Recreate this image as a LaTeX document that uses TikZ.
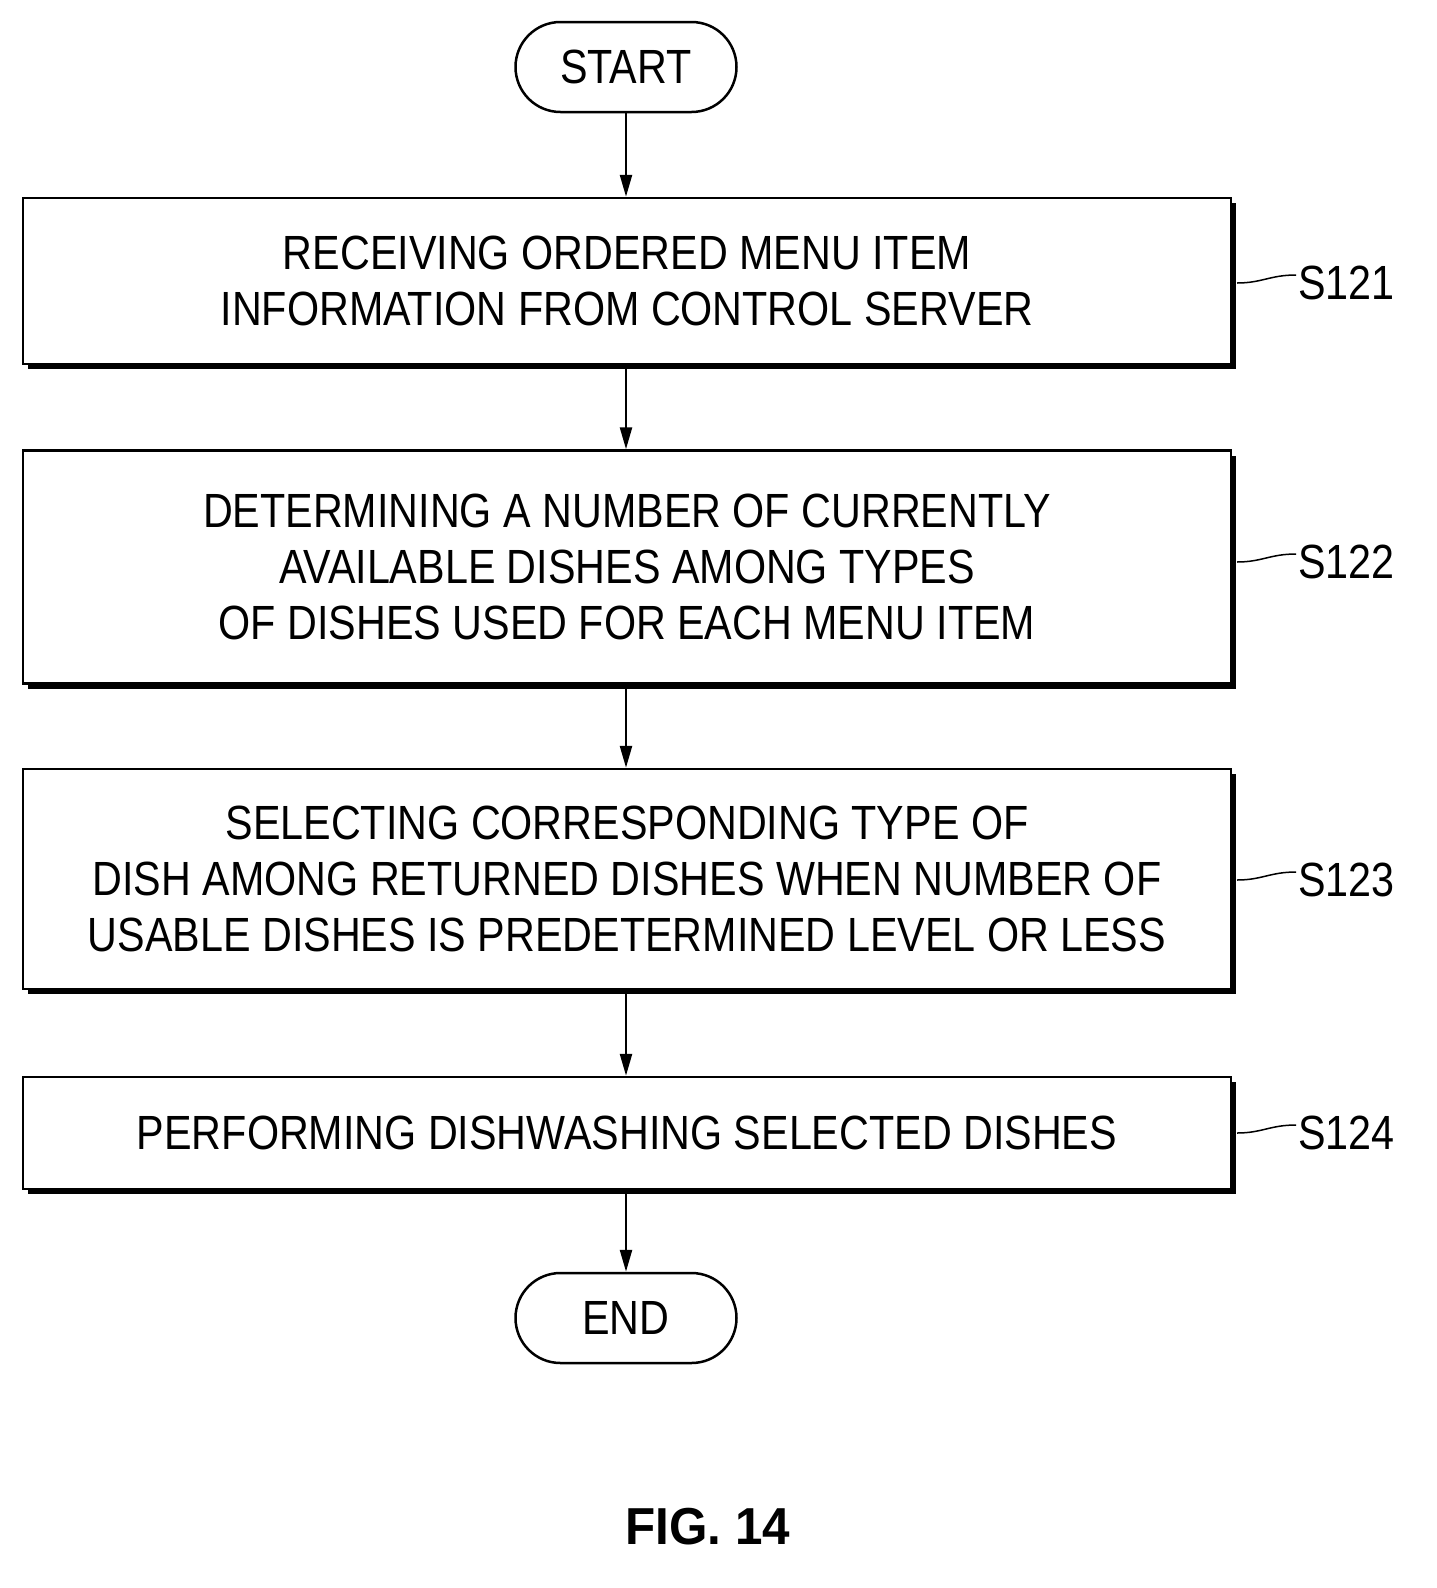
\documentclass[tikz,border=0pt]{standalone}
\usepackage{fontspec}
\setmainfont{Liberation Sans}[FakeStretch=0.86]
\newfontfamily\figfont{Liberation Sans}[FakeStretch=0.95]
\usetikzlibrary{shadows,arrows.meta}
\begin{document}
\begin{tikzpicture}[x=1pt,y=-1pt,
  box/.style={draw,line width=2.5pt,fill=white,minimum width=1208pt,align=center,font=\fontsize{48}{56}\selectfont,
    drop shadow={shadow xshift=5pt,shadow yshift=-5pt,fill=black,opacity=1}},
  term/.style={draw,line width=2.5pt,rounded corners=45pt,minimum width=221pt,minimum height=90pt,font=\fontsize{48}{56}\selectfont},
  arr/.style={line width=2.5pt,-{Triangle[length=22pt,width=12pt]}},
  lbl/.style={font=\fontsize{48}{56}\selectfont,anchor=west,inner sep=0pt},
  lead/.style={line width=1.5pt}]
\useasboundingbox (0,0) rectangle (1437,1588);
\node[term] (st) at (626,67) {START};
\node[box,minimum height=166pt] (b1) at (627,281) {RECEIVING ORDERED MENU ITEM\\INFORMATION FROM CONTROL SERVER};
\node[box,minimum height=233pt] (b2) at (627,567) {DETERMINING A NUMBER OF CURRENTLY\\AVAILABLE DISHES AMONG TYPES\\OF DISHES USED FOR EACH MENU ITEM};
\node[box,minimum height=220pt] (b3) at (627,879) {SELECTING CORRESPONDING TYPE OF\\DISH AMONG RETURNED DISHES WHEN NUMBER OF\\USABLE DISHES IS PREDETERMINED LEVEL OR LESS};
\node[box,minimum height=112pt] (b4) at (627,1133) {PERFORMING DISHWASHING SELECTED DISHES};
\node[term] (en) at (626,1318) {END};
\draw[arr] (st) -- (st|-b1.north);
\draw[arr] (b1.south-|st) -- (st|-b2.north);
\draw[arr] (b2.south-|st) -- (st|-b3.north);
\draw[arr] (b3.south-|st) -- (st|-b4.north);
\draw[arr] (b4.south-|st) -- (en);
\foreach \b/\t/\y in {b1/S121/283,b2/S122/562,b3/S123/880,b4/S124/1133}{
  \node[lbl] (l\b) at (1298,\y) {\t};
  \draw[lead] (1237,\y) .. controls (1262,\y) and (1270,\y-8) .. (1296,\y-8);
}
\node[font=\figfont\bfseries\fontsize{52}{60}\selectfont] (fig) at (708,1527) {FIG. 14};
\end{tikzpicture}
\end{document}
